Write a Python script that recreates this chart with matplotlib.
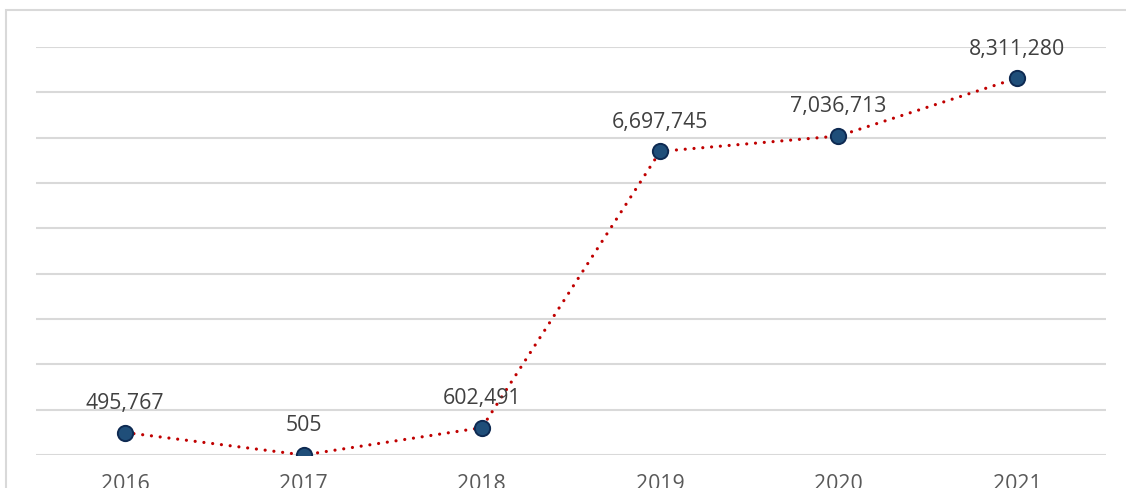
#!/usr/bin/env python
# -*- coding: utf-8 -*-

# imports (3rd party)
import matplotlib as mpl; mpl.use('agg')
import matplotlib.pyplot as plt

# --- data
years = ['2016', '2017', '2018', '2019', '2020', '2021']
values = [495767, 505, 602491, 6697745, 7036713, 8311280]

# --- style
LINE_RED = '#C00000'
DOT_FILL = '#1F4E79'
DOT_EDGE = '#0E2A52'
GRID_GREY = '#D9D9D9'
LABEL_GREY = '#404040'
TICK_GREY = '#595959'
plt.rcParams['font.family'] = ['Open Sans', 'DejaVu Sans']

W, H = 1126, 488
fig = plt.figure(figsize=(W/100, H/100), dpi=100)
ax = fig.add_axes([36/W, (H-455)/H, 1070/W, 408/H])

xs = list(range(len(years)))
ax.plot(xs, values, color=LINE_RED, lw=2.3, linestyle=(0, (0.01, 2.75)),
        dash_capstyle='round', zorder=3)
ax.plot(xs, values, linestyle='none', marker='o', markersize=11,
        markerfacecolor=DOT_FILL, markeredgecolor=DOT_EDGE,
        markeredgewidth=1.4, zorder=4)

# value labels above each point
for x, v in zip(xs, values):
    ax.annotate(f"{v:,}", (x, v), xytext=(0, 17), textcoords='offset points',
                ha='center', va='baseline', fontsize=15.3, color=LABEL_GREY,
                zorder=5)

# --- axes format
ax.set_xlim(-0.5, len(years)-0.5)
ax.set_ylim(0, 9e6)
ax.set_yticks([i*1e6 for i in range(10)])
ax.set_yticklabels([])
ax.set_xticks(xs)
ax.set_xticklabels(years)
ax.tick_params(axis='x', length=0, pad=13.5, labelsize=15.3,
               labelcolor=TICK_GREY)
ax.tick_params(axis='y', length=0)
ax.grid(axis='y', color=GRID_GREY, lw=1.5)
ax.set_axisbelow(True)
for s in ax.spines.values():
    s.set_visible(False)

# chart frame
fig.patches.append(mpl.patches.Rectangle(
    (6/W, -0.1), 1.2, 1 - 10/H + 0.1, transform=fig.transFigure,
    fill=False, edgecolor=GRID_GREY, lw=1.5, zorder=0))

fig.savefig('out.png', dpi=100)
